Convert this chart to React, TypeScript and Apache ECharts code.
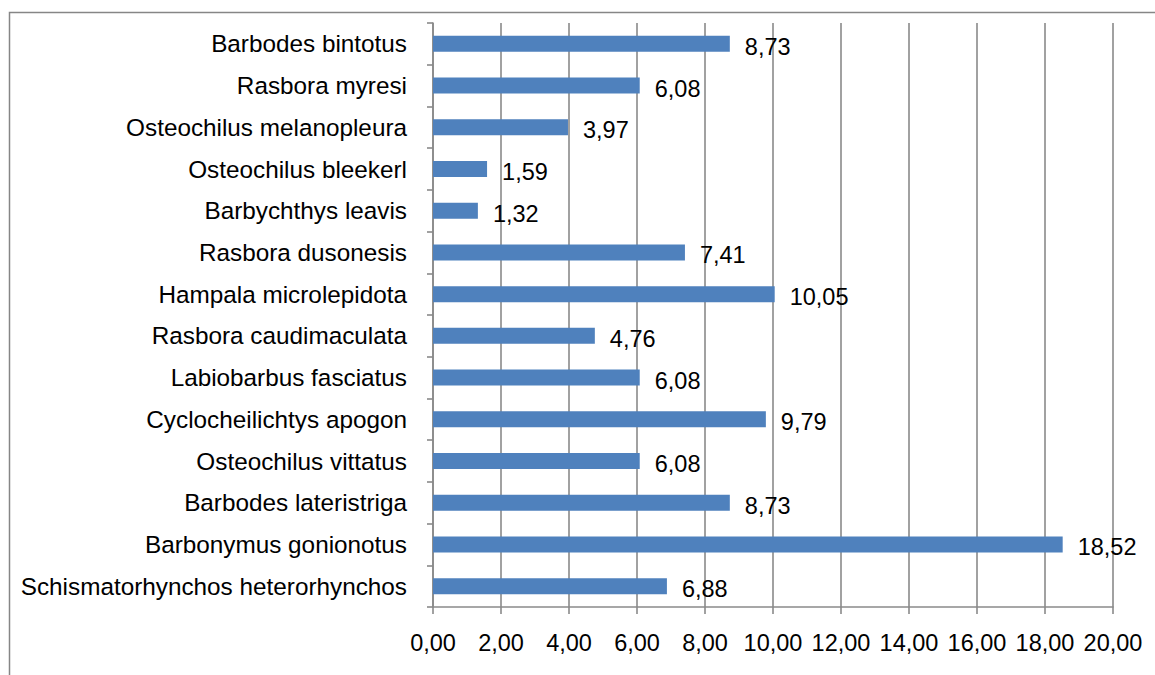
import React, { useEffect, useRef } from "react";
import * as echarts from "echarts";

// categories listed from bottom to top
const categories: string[] = [
  "Schismatorhynchos heterorhynchos",
  "Barbonymus gonionotus",
  "Barbodes lateristriga",
  "Osteochilus vittatus",
  "Cyclocheilichtys apogon",
  "Labiobarbus fasciatus",
  "Rasbora caudimaculata",
  "Hampala microlepidota",
  "Rasbora dusonesis",
  "Barbychthys leavis",
  "Osteochilus bleekerl",
  "Osteochilus melanopleura",
  "Rasbora myresi",
  "Barbodes bintotus",
];

const values: number[] = [
  6.88, 18.52, 8.73, 6.08, 9.79, 6.08, 4.76, 10.05, 7.41, 1.32, 1.59, 3.97, 6.08, 8.73,
];

const xMin = 0;
const xMax = 20;
const xInterval = 2;

const fmt = (v: number) => v.toFixed(2).replace(".", ",");

const FONT = "Liberation Sans";

export default function App() {
  const ref = useRef<HTMLDivElement>(null);
  useEffect(() => {
    if (!ref.current) return;
    const chart = echarts.init(ref.current, null, { renderer: "svg" });
    chart.setOption({
      animation: false,
      backgroundColor: "#ffffff",
      textStyle: { fontFamily: FONT },
      graphic: [
        {
          type: "rect",
          left: 7,
          top: 10,
          shape: { width: 1170, height: 700 },
          style: { fill: "none", stroke: "#868686", lineWidth: 1.5 },
          silent: true,
        },
      ],
      grid: { left: 433, right: 42, top: 23, bottom: 68, containLabel: false },
      xAxis: {
        type: "value",
        min: xMin,
        max: xMax,
        interval: xInterval,
        axisLine: { show: true, lineStyle: { color: "#8a8a8a", width: 1.6 } },
        axisTick: { show: true, length: 7, lineStyle: { color: "#8a8a8a", width: 1.6 } },
        splitLine: { show: true, lineStyle: { color: "#8a8a8a", width: 1.6 } },
        axisLabel: {
          formatter: (v: number) => fmt(v),
          color: "#000",
          fontSize: 23.5,
          fontFamily: FONT,
          margin: 24,
        },
      },
      yAxis: {
        type: "category",
        data: categories,
        axisLine: { show: true, lineStyle: { color: "#8a8a8a", width: 1.6 } },
        axisTick: { show: true, length: 6, alignWithLabel: false, lineStyle: { color: "#8a8a8a", width: 1.6 } },
        axisLabel: {
          color: "#000",
          fontSize: 24.3,
          fontFamily: FONT,
          margin: 26,
        },
      },
      series: [
        {
          type: "bar",
          data: values,
          barWidth: 16,
          itemStyle: { color: "#4f81bd" },
          label: {
            show: true,
            position: "right",
            distance: 15,
            offset: [0, 3],
            color: "#000",
            fontSize: 23.5,
            fontFamily: FONT,
            formatter: (p: any) => fmt(p.value),
          },
        },
      ],
    });
    return () => chart.dispose();
  }, []);
  return (
    <div
      ref={ref}
      style={{ position: "fixed", left: 0, top: 0, width: 1155, height: 675 }}
    />
  );
}
